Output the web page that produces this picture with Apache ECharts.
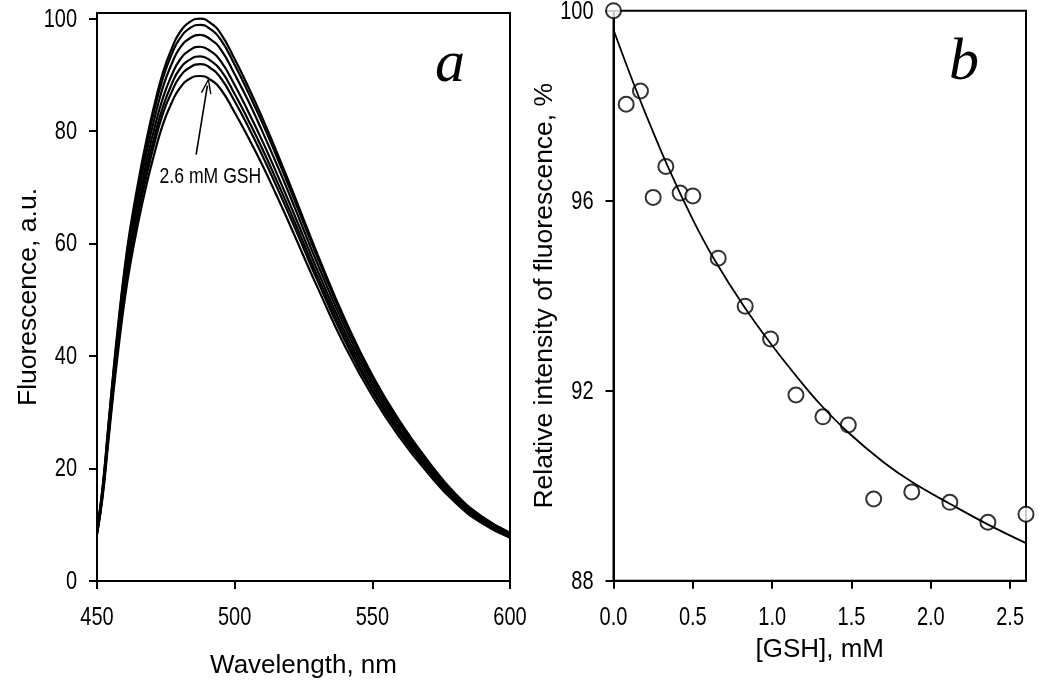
<!DOCTYPE html>
<html><head><meta charset="utf-8">
<script src="https://cdn.jsdelivr.net/npm/echarts@6/dist/echarts.min.js"></script>
<style>html,body{margin:0;padding:0;background:#fff}#c{width:1050px;height:689px}</style>
</head><body><div id="c"></div>
<script>
// ---- Panel a: fluorescence spectra (wavelength, nm) ----
const wavelengths = [450,452,454,456,458,460,462,465,468,471,474,477,480,484,487.5,491,495,500,505,510,515,520,525,530,540,550,560,570,580,590,600];
const spectrum0mM = [9.1,16.5,27,37.5,47,55.5,62.5,71,78.5,85,90.5,94.5,97.5,99.5,100,99.3,97.3,92.8,87.8,82.4,76.6,70.6,64.4,58.2,46.6,36.6,28.4,21.5,15.6,11.4,8.6];
const spectrumB = [9.0,16.3,26.7,37.1,46.5,54.9,61.8,70.2,77.6,84.1,89.5,93.5,96.4,98.4,98.9,98.2,96.2,91.8,86.8,81.5,75.8,69.8,63.7,57.6,46.1,36.2,28.1,21.3,15.4,11.3,8.5];
const spectrumC = [8.8,16.0,26.2,36.4,45.6,53.9,60.7,68.9,76.2,82.5,87.9,91.8,94.7,96.6,97.1,96.4,94.5,90.1,85.3,80.0,74.4,68.6,62.5,56.5,45.2,35.5,27.6,20.9,15.1,11.1,8.4];
const spectrumD = [8.6,15.7,25.7,35.6,44.7,52.7,59.4,67.5,74.6,80.8,86.0,89.8,92.6,94.5,95.0,94.3,92.4,88.2,83.4,78.3,72.8,67.1,61.2,55.3,44.3,34.8,27.0,20.4,14.8,10.8,8.2];
const spectrumE = [8.5,15.4,25.2,35.0,43.9,51.8,58.3,66.2,73.2,79.3,84.4,88.2,91.0,92.8,93.3,92.6,90.8,86.6,81.9,76.9,71.5,65.9,60.1,54.3,43.5,34.1,26.5,20.1,14.6,10.6,8.0];
const spectrumF = [8.4,15.2,24.8,34.5,43.2,51.0,57.4,65.2,72.1,78.1,83.2,86.8,89.6,91.4,91.9,91.3,89.4,85.3,80.7,75.7,70.4,64.9,59.2,53.5,42.8,33.6,26.1,19.8,14.3,10.5,7.9];
const spectrum26mM = [8.2,14.8,24.2,33.7,42.2,49.8,56.1,63.8,70.5,76.3,81.3,84.9,87.6,89.4,89.8,89.2,87.4,83.3,78.8,74.0,68.8,63.4,57.8,52.3,41.8,32.9,25.5,19.3,14.0,10.2,7.7];
const panelATicksX = [450,500,550,600];
const panelATicksY = [0,20,40,60,80,100];
const annotationText = '2.6 mM GSH';
const annotationAt = [491.2, 71.9];
const arrowFrom = [486.0, 75.8];
const arrowTo = [490.1, 88.1];

// ---- Panel b: relative intensity vs [GSH] ----
const gshConc = [0,0.08,0.17,0.25,0.33,0.42,0.5,0.66,0.83,0.99,1.15,1.32,1.48,1.64,1.88,2.12,2.36,2.6];
const relIntensity = [100,98.03,98.31,96.07,96.72,96.16,96.10,94.79,93.78,93.09,91.91,91.45,91.28,89.72,89.87,89.65,89.23,89.40];
const fitConc = [0,0.1,0.2,0.345,0.5,0.629,0.827,1.0,1.154,1.301,1.48,1.7,1.889,2.12,2.362,2.6];
const fitIntensity = [99.6,98.7,97.85,96.7,95.6,94.8,93.75,92.95,92.3,91.72,91.12,90.5,90.06,89.62,89.18,88.79];
const panelBTicksX = [0,0.5,1,1.5,2,2.5];
const panelBTicksY = [88,92,96,100];

const spectra = [spectrum0mM, spectrumB, spectrumC, spectrumD, spectrumE, spectrumF, spectrum26mM];
const zip = (xs, ys) => xs.map((x, i) => [x, ys[i]]);

const SANS = "'Liberation Sans',Arial,sans-serif";
const axisLineStyle = {color:'#000', width:2};

function xAxisCfg(grid, min, max, ticks, name, gap){
  return {type:'value', gridIndex:grid, min, max, name, nameLocation:'middle', nameGap:gap, nameMoveOverlap:false,
    nameTextStyle:{fontFamily:SANS, fontSize:26, color:'#000'},
    axisLine:{show:true, onZero:false, lineStyle:axisLineStyle},
    axisTick:{show:true, inside:false, length:8, lineStyle:axisLineStyle, customValues:ticks},
    axisLabel:{show:false},
    splitLine:{show:false}};
}
function yAxisCfg(grid, min, max, ticks, name, gap){
  return {type:'value', gridIndex:grid, min, max, name, nameLocation:'middle', nameGap:gap, nameMoveOverlap:false,
    nameTextStyle:{fontFamily:SANS, fontSize:26.5, color:'#000'},
    axisLine:{show:true, onZero:false, lineStyle:axisLineStyle},
    axisTick:{show:true, inside:false, length:8, lineStyle:axisLineStyle, customValues:ticks},
    axisLabel:{show:false},
    splitLine:{show:false}};
}

const series = spectra.map(s => ({
  type:'line', xAxisIndex:0, yAxisIndex:0, data:zip(wavelengths, s), showSymbol:false, smooth:0.5,
  lineStyle:{color:'#000', width:2.2}, silent:true
}));
series.push({
  type:'scatter', xAxisIndex:0, yAxisIndex:0, data:[], symbolSize:0,
  markLine:{silent:true, symbol:['none','path://M0,16 L6,0 L12,16 L10.3,16 L6,4 L1.7,16 Z'], symbolSize:[11,16],
    lineStyle:{color:'#000', width:1.6, type:'solid'}, itemStyle:{color:'#000'}, label:{show:false},
    data:[[{coord:arrowFrom},{coord:arrowTo}]]}
});
series.push({
  type:'line', xAxisIndex:1, yAxisIndex:1, data:zip(fitConc, fitIntensity), showSymbol:false, smooth:0.4,
  lineStyle:{color:'#000', width:1.8}, silent:true
});
series.push({
  type:'scatter', xAxisIndex:1, yAxisIndex:1, data:zip(gshConc, relIntensity), symbol:'circle', symbolSize:15,
  itemStyle:{color:'#fff', borderColor:'#000', borderWidth:2}, clip:false
});

const chart = echarts.init(document.getElementById('c'), null, {renderer:'canvas'});
chart.setOption({
  animation:false,
  backgroundColor:'#fff',
  title:[
    {text:'a', left:430, top:30, textStyle:{fontFamily:"'Liberation Serif','DejaVu Serif',serif", fontStyle:'italic', fontWeight:'normal', fontSize:60, color:'#000'}},
    {text:'b', left:944, top:28, textStyle:{fontFamily:"'Liberation Serif','DejaVu Serif',serif", fontStyle:'italic', fontWeight:'normal', fontSize:60, color:'#000'}}
  ],
  grid:[
    {left:97, right:540, top:13, bottom:108, show:true, borderColor:'#000', borderWidth:2, backgroundColor:'transparent'},
    {left:613.5, right:24, top:10.7, bottom:108.3, show:true, borderColor:'#000', borderWidth:2, backgroundColor:'transparent'}
  ],
  xAxis:[
    xAxisCfg(0, 450, 600, panelATicksX, 'Wavelength, nm', 72),
    xAxisCfg(1, 0, 2.6, panelBTicksX, '[GSH], mM', 56)
  ],
  yAxis:[
    yAxisCfg(0, 0, 101, panelATicksY, 'Fluorescence, a.u.', 55),
    yAxisCfg(1, 88, 100, panelBTicksY, 'Relative intensity of fluorescence, %', 55)
  ],
  series
});

// Condensed tick labels and annotation, positioned through the chart's own scales
const TICK_FONT = "25px 'Liberation Sans', Arial, sans-serif";
const SQUEEZE = 0.8;
const graphics = [];
function addXLabels(axisIdx, yAxisIdx, yMin, ticks, fmt){
  const yPix = chart.convertToPixel({yAxisIndex:yAxisIdx}, yMin);
  ticks.forEach(v => {
    const xPix = chart.convertToPixel({xAxisIndex:axisIdx}, v);
    graphics.push({type:'text', x:xPix, y:yPix + 37, scaleX:SQUEEZE, silent:true,
      style:{text:fmt(v), font:TICK_FONT, fill:'#000', align:'center', verticalAlign:'middle'}});
  });
}
function addYLabels(axisIdx, xAxisIdx, xMin, ticks){
  const xPix = chart.convertToPixel({xAxisIndex:xAxisIdx}, xMin);
  ticks.forEach(v => {
    const yPix = chart.convertToPixel({yAxisIndex:axisIdx}, v);
    graphics.push({type:'text', x:xPix - 20, y:yPix + 1, scaleX:SQUEEZE, silent:true,
      style:{text:String(v), font:TICK_FONT, fill:'#000', align:'right', verticalAlign:'middle'}});
  });
}
addXLabels(0, 0, 0, panelATicksX, v => String(v));
addXLabels(1, 1, 88, panelBTicksX, v => v.toFixed(1));
addYLabels(0, 0, 450, panelATicksY);
addYLabels(1, 1, 0, panelBTicksY);
const labelPos = chart.convertToPixel({gridIndex:0}, annotationAt);
graphics.push({type:'text', x:labelPos[0], y:labelPos[1], scaleX:0.8, silent:true,
  style:{text:annotationText, font:"22px 'Liberation Sans', Arial, sans-serif", fill:'#000', align:'center', verticalAlign:'middle'}});
chart.setOption({graphic:graphics});
</script></body></html>
